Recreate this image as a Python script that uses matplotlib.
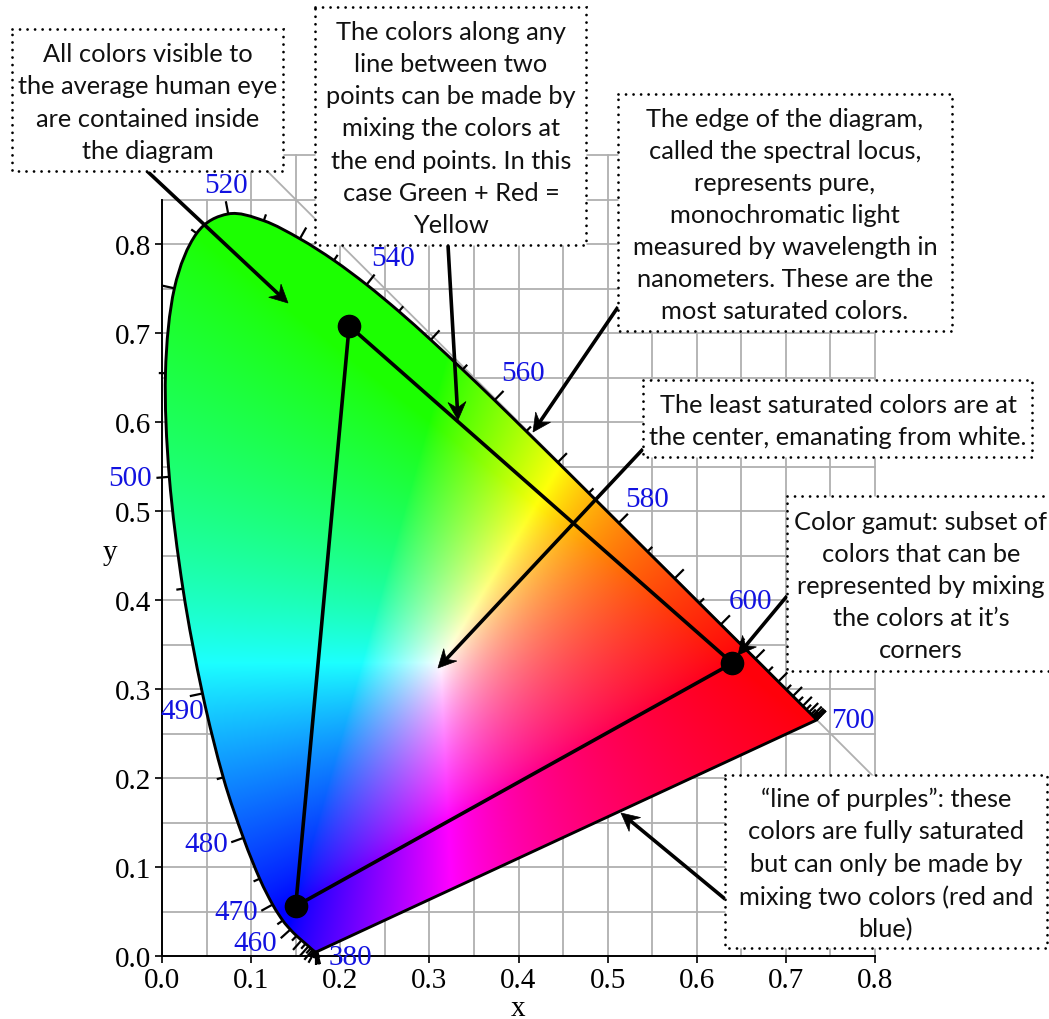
"""CIE 1931 chromaticity diagram with dotted callout boxes."""
import numpy as np
import matplotlib

matplotlib.use("Agg")
import matplotlib.pyplot as plt
from matplotlib.patches import PathPatch, Polygon, Rectangle
from matplotlib.path import Path

W, H = 1049, 1020

wavelengths = list(range(380, 705, 5))
locus_x = [
    0.1741, 0.1740, 0.1738, 0.1736, 0.1733, 0.1730, 0.1726, 0.1721, 0.1714, 0.1703,
    0.1689, 0.1669, 0.1644, 0.1611, 0.1566, 0.1510, 0.1440, 0.1355, 0.1241, 0.1096,
    0.0913, 0.0687, 0.0454, 0.0235, 0.0082, 0.0039, 0.0139, 0.0389, 0.0743, 0.1142,
    0.1547, 0.1929, 0.2296, 0.2658, 0.3016, 0.3373, 0.3731, 0.4087, 0.4441, 0.4788,
    0.5125, 0.5448, 0.5752, 0.6029, 0.6270, 0.6482, 0.6658, 0.6801, 0.6915, 0.7006,
    0.7079, 0.7140, 0.7190, 0.7230, 0.7260, 0.7283, 0.7300, 0.7311, 0.7320, 0.7327,
    0.7334, 0.7340, 0.7344, 0.7346, 0.7347,
]
locus_y = [
    0.0050, 0.0050, 0.0049, 0.0049, 0.0048, 0.0048, 0.0048, 0.0048, 0.0051, 0.0058,
    0.0069, 0.0086, 0.0109, 0.0138, 0.0177, 0.0227, 0.0297, 0.0399, 0.0578, 0.0868,
    0.1327, 0.2007, 0.2950, 0.4127, 0.5384, 0.6548, 0.7502, 0.8120, 0.8338, 0.8262,
    0.8059, 0.7816, 0.7543, 0.7243, 0.6923, 0.6589, 0.6245, 0.5896, 0.5547, 0.5202,
    0.4866, 0.4544, 0.4242, 0.3965, 0.3725, 0.3514, 0.3340, 0.3197, 0.3083, 0.2993,
    0.2920, 0.2859, 0.2809, 0.2770, 0.2740, 0.2717, 0.2700, 0.2689, 0.2680, 0.2673,
    0.2666, 0.2660, 0.2656, 0.2654, 0.2653,
]
gamut_x = [0.21, 0.15, 0.64]
gamut_y = [0.708, 0.056, 0.329]

# wavelength label, pixel centre
nm_labels = [
    ("520", 226, 186), ("540", 393, 259), ("560", 523, 374), ("580", 647, 500),
    ("600", 750, 602), ("700", 853, 721), ("500", 130, 479), ("490", 182, 712),
    ("480", 206, 845), ("470", 236, 913), ("460", 255, 944), ("380", 350, 958),
]

# left, top, right, bottom, then the text
boxes = [
    (12, 30, 283, 172, "All colors visible to\nthe average human eye\nare contained inside\nthe diagram"),
    (315, 8, 586, 246, "The colors along any\nline between two\npoints can be made by\nmixing the colors at\nthe end points. In this\ncase Green + Red =\nYellow"),
    (618, 95, 952, 332, "The edge of the diagram,\ncalled the spectral locus,\nrepresents pure,\nmonochromatic light\nmeasured by wavelength in\nnanometers. These are the\nmost saturated colors."),
    (643, 381, 1032, 458, "The least saturated colors are at\nthe center, emanating from white."),
    (787, 497, 1056, 672, "Color gamut: subset of\ncolors that can be\nrepresented by mixing\nthe colors at it\u2019s\ncorners"),
    (725, 776, 1047, 949, "\u201cline of purples\u201d: these\ncolors are fully saturated\nbut can only be made by\nmixing two colors (red and\nblue)"),
]
text_x = [148, 451, 785, 838, 921, 886]

# tail, head
arrows = [
    ((147, 172), (288, 304)),
    ((448, 246), (458, 421)),
    ((618, 308), (533, 433)),
    ((643, 450), (438, 669)),
    ((787, 597), (738, 656)),
    ((725, 900), (621, 814)),
]


def chromaticity_image(n=900):
    # xy to linear sRGB at Y=1, out of gamut clipped, scaled to full brightness.
    # The picture is close to linear, with a screen-profile tint on the primaries.
    xs = np.linspace(0, 0.8, n)
    ys = np.linspace(0.001, 0.9, n)
    x, y = np.meshgrid(xs, ys)
    X, Z = x / y, (1 - x - y) / y
    r = 3.2406 * X - 1.5372 - 0.4986 * Z
    g = -0.9689 * X + 1.8758 + 0.0415 * Z
    b = 0.0557 * X - 0.2040 + 1.0570 * Z
    rgb = np.clip(np.dstack([r, g, b]), 0, None)
    rgb /= rgb.max(axis=2, keepdims=True)
    rgb = rgb ** (1 / 1.3)
    rgb[..., 0] += 0.11 * rgb[..., 1] * (1 - rgb[..., 0])
    rgb[..., 2] += 0.04 * rgb[..., 0] * (1 - rgb[..., 2])
    return np.clip(rgb, 0, 1)


def smooth_outline(xs, ys):
    # Catmull-Rom through the locus points as Bezier segments, then the straight purple line
    pts = np.column_stack([xs, ys])
    verts = [pts[0]]
    codes = [Path.MOVETO]
    for i in range(len(pts) - 1):
        prev = pts[max(i - 1, 0)]
        nxt = pts[min(i + 2, len(pts) - 1)]
        verts += [pts[i] + (pts[i + 1] - prev) / 6, pts[i + 1] - (nxt - pts[i]) / 6, pts[i + 1]]
        codes += [Path.CURVE4] * 3
    verts += [pts[0], pts[0]]
    codes += [Path.LINETO, Path.CLOSEPOLY]
    return Path(verts, codes)


def draw_arrow(axes, tail, head):
    tail, head = np.array(tail, float), np.array(head, float)
    d = (head - tail) / np.hypot(*(head - tail))
    n = np.array([-d[1], d[0]])
    axes.plot(*zip(tail, head - d * 8), color="black", lw=2.6, zorder=2, solid_capstyle="butt")
    axes.add_patch(Polygon([head, head - d * 18 + n * 9, head - d * 12, head - d * 18 - n * 9],
                           closed=True, fc="black", ec="black", lw=0.5, zorder=2))


plt.rcParams["font.family"] = ["Liberation Serif", "DejaVu Serif"]
fig = plt.figure(figsize=(W / 100, H / 100), dpi=100)
ax = fig.add_axes([162 / W, 1 - 957 / H, (875 - 162) / W, (957 - 156) / H])
ax.set_xlim(0, 0.8)
ax.set_ylim(0, 0.9)
ax.patch.set_visible(False)

grid = {"color": "#b0b0b0", "lw": 1.3, "zorder": 1}
for v in np.arange(0.05, 0.85, 0.05):
    ax.plot([v, v], [0, 0.85 if v < 0.07 else 0.9], clip_on=False, **grid)
for v in np.arange(0.05, 0.9, 0.05):
    ax.plot([0, 0.8], [v, v], clip_on=False, **grid)
ax.plot([0.1, 0.8], [0.9, 0.9], clip_on=False, **grid)
ax.plot([0.1, 0.8], [0.9, 0.2], clip_on=False, **grid)

lx, ly = np.array(locus_x), np.array(locus_y)
im = ax.imshow(chromaticity_image(), origin="lower", extent=(0, 0.8, 0.001, 0.9),
               aspect="auto", interpolation="bilinear", zorder=2)
outline = PathPatch(smooth_outline(lx, ly), fc="none", ec="black", lw=2.1, zorder=3,
                    joinstyle="round", clip_on=False)
ax.add_patch(outline)
im.set_clip_path(outline)

# wavelength ticks, outward normal to the curve, long every 10 nm
dx, dy = np.gradient(lx), np.gradient(ly)
norm = np.hypot(dx, dy)
for i, nm in enumerate(wavelengths):
    length = 0.0145 if nm % 10 == 0 else 0.0075
    nx, ny = -dy[i] / norm[i], dx[i] / norm[i]
    if nm >= 670:
        nx, ny = 0.707, 0.707
    ax.plot([lx[i], lx[i] + nx * length], [ly[i], ly[i] + ny * length], color="black",
            lw=1.6, zorder=3, clip_on=False, solid_capstyle="butt")

ax.plot(gamut_x + gamut_x[:1], gamut_y + gamut_y[:1], color="black", lw=2.6, zorder=4)
ax.plot(gamut_x, gamut_y, "o", color="black", ms=16, zorder=5, clip_on=False)

ax.set_xticks(np.arange(0, 0.85, 0.1))
ax.set_yticks(np.arange(0, 0.85, 0.1))
ax.tick_params(labelsize=21, length=5, width=1.4, color="#222222", pad=3)
ax.xaxis.set_major_formatter("{x:.1f}")
ax.yaxis.set_major_formatter("{x:.1f}")
for side in ("top", "right"):
    ax.spines[side].set_visible(False)
ax.spines["left"].set_bounds(0, 0.85)
ax.spines["bottom"].set_bounds(0, 0.8)
ax.spines["left"].set_linewidth(1.4)
ax.spines["bottom"].set_linewidth(1.4)

# overlay in image pixels for the callouts
top = fig.add_axes([0, 0, 1, 1], zorder=10)
top.set_xlim(0, W)
top.set_ylim(H, 0)
top.axis("off")
top.text(518, 1009, "x", fontsize=21, ha="center", va="center")
top.text(110, 553, "y", fontsize=21, ha="center", va="center")
for label, px, py in nm_labels:
    top.text(px, py, label, fontsize=21, color="#1212e0", ha="center", va="center")
for tail, head in arrows:
    draw_arrow(top, tail, head)
for (x0, y0, x1, y1, label), cx in zip(boxes, text_x):
    top.add_patch(Rectangle((x0, y0), x1 - x0, y1 - y0, fc="white", ec="black", lw=2,
                            ls=(0, (0.01, 2.7)), capstyle="round", zorder=3))
    top.text(cx, (y0 + y1) / 2 + 2, label, family="Lato", fontsize=18.3, color="#111111",
             ha="center", va="center", linespacing=1.48, zorder=4)

fig.savefig("out.png", dpi=100)
